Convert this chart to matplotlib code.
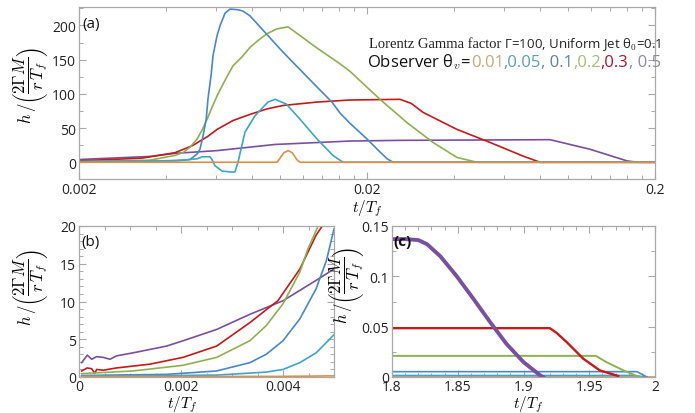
import matplotlib
matplotlib.use("Agg")
import matplotlib.pyplot as plt
from matplotlib.ticker import FixedLocator, MultipleLocator, FuncFormatter, NullFormatter

plt.rcParams['font.family'] = ['Open Sans', 'DejaVu Sans']
plt.rcParams['mathtext.fontset'] = 'cm'

# ---------------- data: panel (a) ----------------
a_blue_t = [0.002, 0.00353, 0.00459, 0.00486, 0.00514, 0.00526, 0.00539, 0.00553, 0.00561, 0.00575,
            0.00584, 0.00603, 0.00618, 0.00643, 0.00669, 0.00713, 0.00742, 0.00785, 0.01022, 0.01341,
            0.01511, 0.01611, 0.01745, 0.02, 0.02219, 0.0235, 0.02462, 0.2]
a_blue_v = [1, 1.5, 3, 4, 12, 19, 38, 63, 93, 127,
            156, 185, 200, 218, 224, 223, 221, 214, 161, 110,
            88, 72, 57, 34, 15, 5, 0, 0]
a_green_t = [0.002, 0.00353, 0.00431, 0.00459, 0.00486, 0.00514, 0.00535, 0.00557, 0.00579, 0.00603,
             0.00643, 0.00685, 0.00736, 0.00785, 0.00837, 0.00899, 0.00974, 0.01064,
             0.01341, 0.01611, 0.01745, 0.02219, 0.02753, 0.03389, 0.04106, 0.04818, 0.2]
a_green_v = [1, 3, 10, 14, 22, 34, 47, 63, 80, 97,
             120, 141, 154, 168, 178, 188, 195, 198,
             167, 144, 133, 92, 58, 29, 7, 0, 0]
a_red_t = [0.002, 0.00331, 0.00431, 0.00494, 0.00561, 0.00603, 0.00685, 0.00785, 0.00899, 0.01022,
           0.01341, 0.01745, 0.02603, 0.0285, 0.03129, 0.04106, 0.05347, 0.06963, 0.07976, 0.2]
a_red_v = [2, 6, 14, 24, 38, 48, 61, 70, 78, 83,
           88, 91, 92, 86, 73, 48, 29, 9, 0, 0]
a_purple_t = [0.002, 0.00353, 0.00431, 0.00603, 0.00959, 0.01745, 0.02603, 0.0864, 0.11894, 0.15988, 0.17321, 0.2]
a_purple_v = [4, 8.5, 13, 17, 26, 31, 32, 33, 19, 2, 0, 0]
a_teal_t = [0.002, 0.00431, 0.00514, 0.00535, 0.0057, 0.00579, 0.00593, 0.00628, 0.00685, 0.00696,
            0.00713, 0.00754, 0.00817, 0.00906, 0.00959, 0.0105, 0.0117, 0.01341, 0.01523, 0.0165, 0.2]
a_teal_v = [0.5, 2, 5, 8, 8, 4, -5, -13, -14.5, -14,
            0, 44, 68, 88, 92, 85, 63, 34, 10, 0, 0]
a_orange_t = [0.002, 0.00974, 0.00998, 0.0103, 0.01064, 0.0110, 0.0114, 0.0117, 0.2]
a_orange_v = [0, 0, 6, 14, 17, 14, 4, 0, 0]

# ---------------- data: panel (b) ----------------
b_purple_t = [0.000052, 0.000163, 0.000248, 0.000346, 0.000476, 0.000607, 0.000737, 0.00106, 0.00172,
              0.00204, 0.0027, 0.00335, 0.004, 0.00465, 0.005]
b_purple_v = [1.9, 2.9, 2.35, 2.7, 2.6, 2.35, 2.8, 3.2, 4.1, 4.8, 6.3, 8.3, 10.1, 12.8, 14.3]
b_red_t = [0.000052, 0.000163, 0.000248, 0.00031, 0.000346, 0.000476, 0.000737, 0.00139, 0.00204,
           0.0027, 0.00335, 0.00367, 0.0039, 0.00433, 0.00465, 0.00482, 0.005]
b_red_v = [0.8, 1.2, 1.1, 0.5, 1.0, 0.9, 1.2, 1.7, 2.6, 4.1, 7.2, 8.9, 10.1, 14.3, 18.8, 20.5, 24]
b_green_t = [0.000052, 0.00106, 0.00204, 0.0027, 0.00335, 0.00367, 0.004, 0.00433, 0.00449, 0.00469, 0.005]
b_green_v = [0.45, 0.8, 1.55, 2.6, 4.8, 6.8, 9.7, 13.9, 17, 20, 27]
b_blue_t = [0.000052, 0.00172, 0.0027, 0.00335, 0.00367, 0.004, 0.00433, 0.00465, 0.00485, 0.005]
b_blue_v = [0.2, 0.35, 0.8, 1.9, 3.0, 4.8, 7.7, 11.7, 15.4, 19.6]
b_teal_t = [0.000052, 0.0027, 0.00367, 0.004, 0.00433, 0.00465, 0.005]
b_teal_v = [0.1, 0.25, 0.65, 1.0, 1.9, 3.2, 5.6]
b_orange_t = [0.000052, 0.004, 0.005]
b_orange_v = [0.05, 0.08, 0.15]

# ---------------- data: panel (c) ----------------
c_purple_t = [1.8, 1.81, 1.82, 1.8266, 1.8367, 1.849, 1.862, 1.8747, 1.887, 1.9, 1.9127, 1.915]
c_purple_v = [0.137, 0.137, 0.136, 0.132, 0.120, 0.1005, 0.0775, 0.0544, 0.033, 0.0148, 0.0016, 0]
c_red_t = [1.8, 1.92, 1.925, 1.9329, 1.9456, 1.958, 1.972]
c_red_v = [0.0485, 0.0485, 0.044, 0.0346, 0.018, 0.0066, 0.001]
c_green_t = [1.8, 1.955, 1.963, 1.976, 1.986, 1.989]
c_green_v = [0.021, 0.021, 0.0148, 0.0066, 0.001, 0]
c_blue_t = [1.8, 1.9863, 1.9939]
c_blue_v = [0.0053, 0.0053, 0]
c_teal_t = [1.8, 1.985, 1.992]
c_teal_v = [0.0015, 0.0015, 0]
c_orange_t = [1.8, 2.0]
c_orange_v = [0, 0]

# ---------------- annotation text ----------------
title_serif = "Lorentz Gamma factor"
title_sans = " \u0393=100, Uniform Jet \u03b8$_0$=0.1"
obs_prefix = "Observer \u03b8$_v$="
obs_values = ["0.01", ",0.05", ", 0.1", ",0.2", ",0.3", ", 0.5"]

# ---------------- styles ----------------
C_BLUE = '#4a88c7'
C_TEAL = '#3ea6c4'
C_GREEN = '#8db152'
C_RED = '#c41a1a'
C_PURPLE = '#7a4f9e'
C_ORANGE = '#e08e45'
obs_colors = ['#c9a878', '#5a9fb2', '#5f80a2', '#a9b97a', '#a3192e', '#8b8b99']
SPINE = '#a8a8a8'
LW = 1.2

fig = plt.figure(figsize=(6.95, 4.14), dpi=100)
W, H = 695, 414

def add_ax(l, t, r, b):
    return fig.add_axes([l / W, 1 - b / H, (r - l) / W, (b - t) / H])

ax_a = add_ax(79, 8, 655, 180)
ax_b = add_ax(79, 227, 334, 378)
ax_c = add_ax(392, 227, 655, 378)

ylab = r'$h\,/\left(\dfrac{2\Gamma M}{r\,T_f}\right)$'
xlab = r'$t/T_f$'

def style(ax, xpad=3):
    for s in ax.spines.values():
        s.set_color(SPINE)
        s.set_linewidth(0.9)
    ax.tick_params(which='both', direction='in', top=True, right=True, color=SPINE,
                   labelcolor='#222222', labelsize=10)
    ax.tick_params(which='major', length=5, width=0.8)
    ax.tick_params(which='minor', length=3, width=0.7)
    ax.tick_params(axis='y', pad=2)
    ax.tick_params(axis='x', pad=xpad)

# ----- panel (a) -----
ax = ax_a
for t, v, c in [(a_purple_t, a_purple_v, C_PURPLE), (a_red_t, a_red_v, C_RED),
                (a_green_t, a_green_v, C_GREEN), (a_blue_t, a_blue_v, C_BLUE),
                (a_teal_t, a_teal_v, C_TEAL), (a_orange_t, a_orange_v, C_ORANGE)]:
    ax.plot(t, v, color=c, lw=LW)
ax.set_xscale('log')
ax.set_xlim(0.002, 0.2)
ax.set_ylim(-24.5, 227)
ax.xaxis.set_major_locator(FixedLocator([0.002, 0.02, 0.2]))
ax.xaxis.set_major_formatter(FuncFormatter(lambda x, p: '%g' % x))
ax.xaxis.set_minor_locator(FixedLocator([0.004, 0.006, 0.008, 0.01, 0.012, 0.014, 0.016, 0.018,
                                         0.04, 0.06, 0.08, 0.1, 0.12, 0.14, 0.16, 0.18]))
ax.xaxis.set_minor_formatter(NullFormatter())
ax.yaxis.set_major_locator(MultipleLocator(50))
ax.yaxis.set_minor_locator(MultipleLocator(25))
style(ax, xpad=2)
ax.set_ylabel(ylab, fontsize=12)
ax.yaxis.set_label_coords(-0.05, 0.55)
ax.set_xlabel(xlab, fontsize=11)
ax.xaxis.set_label_coords(0.5, -0.11)
ax.text(0.005, 0.948, '(a)', transform=ax.transAxes, fontsize=11, va='top', ha='left', color='#111111')

# ----- panel (b) -----
ax = ax_b
for t, v, c in [(b_purple_t, b_purple_v, C_PURPLE), (b_red_t, b_red_v, C_RED),
                (b_green_t, b_green_v, C_GREEN), (b_blue_t, b_blue_v, C_BLUE),
                (b_teal_t, b_teal_v, C_TEAL), (b_orange_t, b_orange_v, C_ORANGE)]:
    ax.plot(t, v, color=c, lw=LW)
ax.set_xlim(0, 0.005)
ax.set_ylim(0, 20)
ax.xaxis.set_major_locator(FixedLocator([0, 0.002, 0.004]))
ax.xaxis.set_major_formatter(FuncFormatter(lambda x, p: '%g' % x))
ax.xaxis.set_minor_locator(MultipleLocator(0.0005))
ax.yaxis.set_major_locator(MultipleLocator(5))
ax.yaxis.set_minor_locator(MultipleLocator(1))
style(ax, xpad=1.5)
ax.set_ylabel(ylab, fontsize=12)
ax.yaxis.set_label_coords(-0.114, 0.6)
ax.set_xlabel(xlab, fontsize=11)
ax.xaxis.set_label_coords(0.404, -0.112)
ax.text(0.008, 0.947, '(b)', transform=ax.transAxes, fontsize=11, va='top', ha='left', color='#111111')

# ----- panel (c) -----
ax = ax_c
ax.plot(c_orange_t, c_orange_v, color=C_ORANGE, lw=LW)
ax.plot(c_teal_t, c_teal_v, color=C_TEAL, lw=LW)
ax.plot(c_blue_t, c_blue_v, color=C_BLUE, lw=LW)
ax.plot(c_green_t, c_green_v, color=C_GREEN, lw=1.4)
ax.plot(c_red_t, c_red_v, color=C_RED, lw=1.7)
ax.text(0.004, 0.947, '(c)', transform=ax.transAxes, fontsize=11, va='top', ha='left',
        color='#111111', fontweight='bold')
ax.plot(c_purple_t, c_purple_v, color=C_PURPLE, lw=2.8)
ax.set_xlim(1.8, 2.0)
ax.set_ylim(0, 0.15)
ax.xaxis.set_major_locator(MultipleLocator(0.05))
ax.xaxis.set_major_formatter(FuncFormatter(lambda x, p: '%g' % round(x, 3)))
ax.xaxis.set_minor_locator(MultipleLocator(0.01))
ax.yaxis.set_major_locator(MultipleLocator(0.05))
ax.yaxis.set_major_formatter(FuncFormatter(lambda x, p: '%g' % round(x, 3)))
ax.yaxis.set_minor_locator(MultipleLocator(0.025))
style(ax, xpad=1.5)
ax.set_ylabel(ylab, fontsize=12)
ax.yaxis.set_label_coords(-0.1, 0.615)
ax.set_xlabel(xlab, fontsize=11)
ax.xaxis.set_label_coords(0.517, -0.112)

# ----- multi-coloured annotation in panel (a) -----
renderer = fig.canvas.get_renderer()

def chain(xpix, ypix, pieces):
    for s, color, kw in pieces:
        t = fig.text(xpix / W, 1 - ypix / H, s, color=color, va='baseline', ha='left', **kw)
        bb = t.get_window_extent(renderer)
        xpix = bb.x1

chain(369, 48, [(title_serif, '#222222', dict(family=['Liberation Serif'], fontsize=10.5)),
                (title_sans, '#222222', dict(fontsize=9.5))])
pieces = [(obs_prefix, '#111111', dict(fontsize=12))]
for s, c in zip(obs_values, obs_colors):
    pieces.append((s, c, dict(fontsize=12)))
chain(367, 67, pieces)

fig.savefig('out.png', dpi=100)
